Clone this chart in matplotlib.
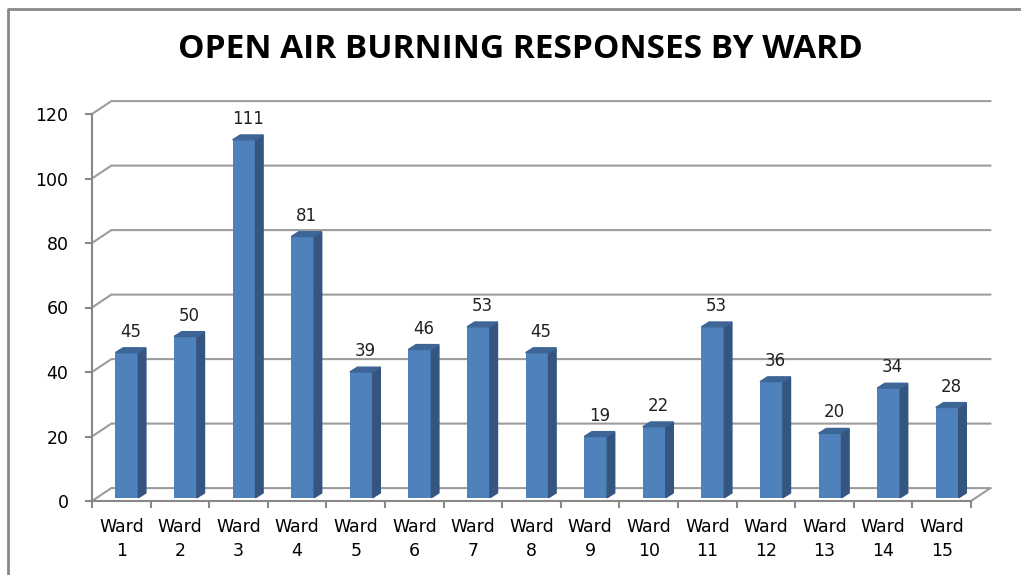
import numpy as np
import matplotlib.pyplot as plt
from matplotlib.lines import Line2D

wards = [f"Ward\n{i}" for i in range(1, 16)]
responses = [45, 50, 111, 81, 39, 46, 53, 45, 19, 22, 53, 36, 20, 34, 28]
yticks = [0, 20, 40, 60, 80, 100, 120]
title = "OPEN AIR BURNING RESPONSES BY WARD"

W, H = 1021, 575
fig = plt.figure(figsize=(W / 100, H / 100), dpi=100)
ax = fig.add_axes([92 / W, (H - 501) / H, (971 - 92) / W, (501 - 114) / H])
n = len(responses)
ax.set_xlim(0, n)
ax.set_ylim(0, yticks[-1])

grid_c = "#9c9c9c"
# back wall offset (3d look)
wdx, wdy = 0.33, 4.0
for y in yticks:
    ax.plot([0, wdx, n + wdx], [y, y + wdy, y + wdy], color=grid_c, lw=1.5,
            clip_on=False, zorder=1)
ax.plot([n, n + wdx], [0, wdy], color=grid_c, lw=1.5, clip_on=False, zorder=1)

# bars: front face + side + top
front = "#4f81bd"
side = "#34557f"
top_c = "#3d6696"
bw, left_off, base = 0.39, 0.40, 1.0
ddx, ddy = 0.13, 1.5
for i, v in enumerate(responses):
    x0 = i + left_off
    x1 = x0 + bw
    t = v + base
    ax.bar(x0, v, width=bw, bottom=base, align="edge", color=front,
           zorder=3, clip_on=False)
    ax.fill([x1, x1 + ddx, x1 + ddx, x1], [base, base + ddy, t + ddy, t],
            color=side, zorder=3, clip_on=False)
    ax.fill([x0, x0 + ddx, x1 + ddx, x1], [t, t + ddy, t + ddy, t],
            color=top_c, zorder=3, clip_on=False)
    ax.annotate(str(v), (x0 + (bw + ddx) / 2, t + ddy), xytext=(0, 5),
                textcoords="offset points", ha="center", va="bottom",
                fontsize=12, color="#222222")

for s in ["top", "right"]:
    ax.spines[s].set_visible(False)
for s in ["left", "bottom"]:
    ax.spines[s].set_color("#888888")
    ax.spines[s].set_linewidth(1.5)

ax.set_yticks(yticks)
ax.set_xticks(np.arange(n + 1))
ax.set_xticklabels([])
ax.set_xticks(np.arange(n) + 0.5, minor=True)
ax.set_xticklabels(wards, minor=True, fontsize=12.5, linespacing=1.45)
ax.tick_params(axis="x", which="major", length=5, width=1.5, color="#888888")
ax.tick_params(axis="x", which="minor", length=0, pad=12)
ax.tick_params(axis="y", length=5, width=1.5, color="#888888", labelsize=12.5,
               pad=12)

fig.text(520 / W, 1 - 49 / H, title, ha="center", va="center",
         fontsize=24, fontweight="bold", family="Open Sans")

# chart frame
fig.add_artist(Line2D([8 / W, 8 / W, 1], [0, 1 - 9 / H, 1 - 9 / H],
                      color="#888888", lw=2))

fig.savefig("out.png", dpi=100)
